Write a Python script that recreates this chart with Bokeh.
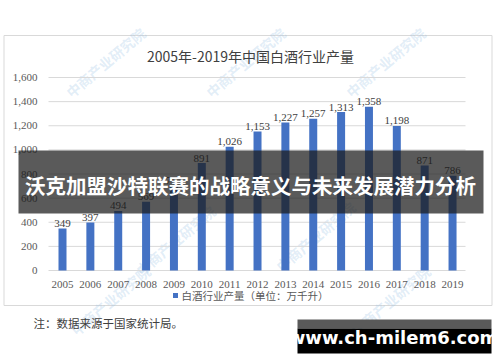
from bokeh.plotting import figure
from bokeh.models import Range1d
from bokeh.core.properties import value
from bokeh.embed import file_html
from bokeh.resources import INLINE

# ---------------- data ----------------
years = ["2005", "2006", "2007", "2008", "2009", "2010", "2011", "2012",
         "2013", "2014", "2015", "2016", "2017", "2018", "2019"]
production = [349, 397, 494, 569, 707, 891, 1026, 1153, 1227, 1257, 1313, 1358, 1198, 871, 786]
value_labels = [f"{v:,}" for v in production]
y_ticks = [0, 200, 400, 600, 800, 1000, 1200, 1400, 1600]
y_tick_labels = ["0", "200", "400", "600", "800", "1,000", "1,200", "1,400", "1,600"]
title_text = "2005年-2019年中国白酒行业产量"
legend_text = "白酒行业产量（单位：万千升）"
note_text = "注：数据来源于国家统计局。"
overlay_text = "沃克加盟沙特联赛的战略意义与未来发展潜力分析"
site_text = "www.ch-milem6.com"
watermark_text = "中商产业研究院"

# ---------------- layout (page pixels) ----------------
W, H, OFF = 500, 362, 0
BAR0_PX, STEP_PX = 62.0, 27.86
ZERO_PY, PX_PER_UNIT = 270.0, 193.0 / 1600.0


def fx(px):
    return (px - BAR0_PX) / STEP_PX


def fy(py):
    return (ZERO_PY - py) / PX_PER_UNIT


idx = list(range(len(years)))
CJK = value("Noto Sans CJK SC")
SERIF = value("Liberation Serif")

p = figure(width=W, height=H, output_backend="svg", toolbar_location=None,
           x_range=Range1d(fx(OFF), fx(OFF + W)), y_range=Range1d(fy(OFF + H), fy(OFF)),
           x_axis_type=None, y_axis_type=None, min_border=0,
           outline_line_color=None, background_fill_color="white",
           border_fill_color="white")

# chart frame box
p.quad(left=fx(3.5), right=fx(491.5), top=fy(35), bottom=fy(305),
       fill_color="white", line_color="#d9d9d9", line_width=1)

# faint watermarks
wm_x = [105, 245, 385, 175, 315, 110, 390]
wm_y = [62, 62, 62, 240, 236, 300, 300]
p.text(x=[fx(v) for v in wm_x], y=[fy(v) for v in wm_y], text=[watermark_text] * len(wm_x),
       angle=0.7, text_align="center", text_baseline="middle",
       text_font=CJK, text_font_size="14px", text_font_style="bold",
       text_color="#9cc3e6", text_alpha=0.3)

# title
p.text(x=[fx(250)], y=[fy(55)], text=[title_text], text_align="center",
       text_baseline="middle", text_font=CJK, text_font_size="14px", text_color="#404040")

# gridlines
p.segment(x0=[fx(48)] * len(y_ticks), x1=[fx(465)] * len(y_ticks), y0=y_ticks, y1=y_ticks,
          line_color="#d9d9d9", line_width=1)

# y tick labels
p.text(x=[fx(37)] * len(y_ticks), y=y_ticks, text=y_tick_labels, text_align="right",
       text_baseline="middle", text_font=SERIF, text_font_size="11px", text_color="#595959")

# bars
p.vbar(x=idx, top=production, bottom=0, width=8.0 / STEP_PX,
       fill_color="#4472c4", line_color=None)

# value labels
p.text(x=idx, y=production, text=value_labels, y_offset=-5, text_align="center",
       text_baseline="alphabetic", text_font=SERIF, text_font_size="11px", text_color="#404040")

# x labels
p.text(x=idx, y=[fy(284)] * len(idx), text=years, text_align="center",
       text_baseline="middle", text_font=SERIF, text_font_size="11px", text_color="#595959")

# legend
p.rect(x=[fx(175)], y=[fy(295)], width=5, height=5, width_units="screen",
       height_units="screen", fill_color="#4472c4", line_color=None)
p.text(x=[fx(181)], y=[fy(295)], text=[legend_text], text_align="left",
       text_baseline="middle", text_font=CJK, text_font_size="10.5px", text_color="#595959")

# note
p.text(x=[fx(33)], y=[fy(322)], text=[note_text], text_align="left",
       text_baseline="middle", text_font=CJK, text_font_size="11.5px", text_color="#404040")

# overlay band with headline
p.quad(left=fx(18), right=fx(483), top=fy(150), bottom=fy(213),
       fill_color="#1a1a1a", fill_alpha=0.72, line_color=None)
p.text(x=[fx(250)], y=[fy(184)], text=[overlay_text], text_align="center",
       text_baseline="middle", text_font=CJK, text_font_size="20.5px",
       text_font_style="bold", text_color="white")

# site box
p.quad(left=fx(297), right=fx(491), top=fy(319), bottom=fy(328),
       fill_color="#5a5a5a", line_color=None)
p.quad(left=fx(297), right=fx(491), top=fy(328), bottom=fy(353),
       fill_color="black", line_color=None)
p.text(x=[fx(393)], y=[fy(337)], text=[site_text], text_align="center",
       text_baseline="middle", text_font=value("DejaVu Sans"), text_font_size="18px",
       text_font_style="bold", text_color="white")

open("out.html", "w").write(file_html(p, INLINE))
